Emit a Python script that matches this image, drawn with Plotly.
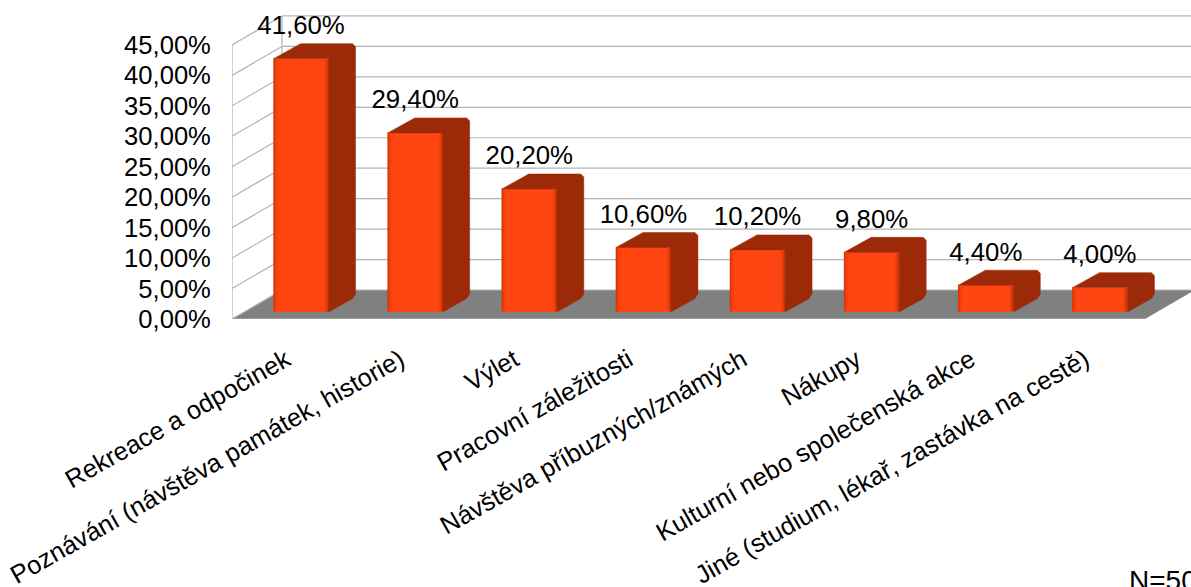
import plotly.graph_objects as go

categories = ["Rekreace a odpočinek", "Poznávání (návštěva památek, historie)", "Výlet",
              "Pracovní záležitosti", "Návštěva příbuzných/známých", "Nákupy",
              "Kulturní nebo společenská akce", "Jiné (studium, lékař, zastávka na cestě)"]
values = [41.6, 29.4, 20.2, 10.6, 10.2, 9.8, 4.4, 4.0]
y_ticks = [0, 5, 10, 15, 20, 25, 30, 35, 40, 45]

PX_X = 114.125   # pixels per category
PX_Y = 6.09      # pixels per percentage point
L, B = 232, 268
W, H = 1191, 587
DEPTH_X = 50 / PX_X
DEPTH_Y = 29 / PX_Y
BAR_W = 55 / PX_X
BASE_X = 12 / PX_X
BASE_Y = 7 / PX_Y
SIDE_X = 27 / PX_X
SIDE_Y = 15 / PX_Y
LABEL_Y = 31 / PX_Y
CUT_X = 3 / PX_X
CUT_Y = 3 / PX_Y
TICK_SHIFT = 3 / PX_X
FONT = "Liberation Sans"
FS = 25.8
FS_Y = 25.6
FS_X = 25.5
FS_NOTE = 28
INK = "#000000"
GRID = "#b3b3b3"
FLOOR = "#808080"
FRONT = "#ff4511"
DARK = "#9c2a08"
# (offset from the bar edge in px, strip width in px, colour)
LEFT_STRIPS = [(0, 1.2, "#cf380b"), (1.2, 1.2, "#e83e0d"), (2.4, 1.2, "#f6420f")]
RIGHT_STRIPS = [(0, 1.2, "#b9320a"), (1.2, 1.2, "#d63a0c"), (2.4, 1.2, "#ee400e")]

xs = [i + 0.5 for i in range(len(values))]
x_max = (W - L) / PX_X
y_max = (H - B) / PX_Y

shapes = [dict(type="path", layer="below", xref="x", yref="y", line_width=0, fillcolor=FLOOR,
               path=f"M0,0 L8,0 L{8+DEPTH_X},{DEPTH_Y} L{DEPTH_X},{DEPTH_Y} Z")]
for t in y_ticks:
    shapes.append(dict(type="line", layer="below", xref="x", yref="y", x0=0, y0=t, x1=DEPTH_X,
                       y1=t + DEPTH_Y, line=dict(color=GRID, width=1.2)))
    shapes.append(dict(type="line", layer="below", xref="x", yref="y", x0=DEPTH_X, y0=t + DEPTH_Y,
                       x1=8 + DEPTH_X, y1=t + DEPTH_Y, line=dict(color=GRID, width=1.2)))
for x0 in (0, DEPTH_X):
    dy = DEPTH_Y if x0 else 0
    shapes.append(dict(type="line", layer="below", xref="x", yref="y", x0=x0, y0=dy, x1=x0,
                       y1=max(y_ticks) + dy, line=dict(color=GRID, width=1.2)))
shapes.append(dict(type="line", layer="below", xref="x", yref="y", x0=0, y0=0, x1=8, y1=0,
                   line=dict(color=GRID, width=1.2)))

fig = go.Figure()
fig.add_bar(x=[x + BASE_X for x in xs], y=values, base=[BASE_Y] * len(values), width=BAR_W,
            marker=dict(color=FRONT, line=dict(width=0), cornerradius=2), hoverinfo="skip")


def poly(px, py, color):
    fig.add_scatter(x=px + px[:1], y=py + py[:1], mode="lines", fill="toself", fillcolor=color,
                    line=dict(color=color, width=0.5), hoverinfo="skip")


for x, v in zip(xs, values):
    left = x + BASE_X - BAR_W / 2
    right = left + BAR_W
    top = v + BASE_Y
    # side and top faces as one silhouette with softened corners
    poly([left, left + SIDE_X, right + SIDE_X - CUT_X, right + SIDE_X, right + SIDE_X,
          right + SIDE_X - CUT_X, right, right, left],
         [top, top + SIDE_Y, top + SIDE_Y, top + SIDE_Y - CUT_Y, BASE_Y + SIDE_Y + CUT_Y,
          BASE_Y + SIDE_Y - CUT_Y / 2, BASE_Y, top, top],
         DARK)
    # soft bevel on the front face
    for off, w, col in LEFT_STRIPS:
        a, b = left + off / PX_X, left + (off + w) / PX_X
        poly([a, b, b, a], [BASE_Y + 0.2, BASE_Y + 0.2, top, top], col)
    for off, w, col in RIGHT_STRIPS:
        a, b = right - off / PX_X, right - (off + w) / PX_X
        poly([a, b, b, a], [BASE_Y + 0.2, BASE_Y + 0.2, top, top], col)

fig.add_scatter(x=[x + BASE_X for x in xs], y=[v + BASE_Y + LABEL_Y for v in values], mode="text",
                text=[f"{v:.2f}%".replace(".", ",") for v in values], textposition="middle center",
                textfont=dict(family=FONT, size=FS, color=INK), hoverinfo="skip", cliponaxis=False)

fig.update_layout(
    width=W, height=H, margin=dict(l=L, r=0, t=0, b=B), showlegend=False, bargap=0,
    paper_bgcolor="white", plot_bgcolor="white", shapes=shapes,
    font=dict(family=FONT, size=FS, color=INK),
    xaxis=dict(range=[0, x_max], tickmode="array", tickvals=[x - TICK_SHIFT for x in xs],
               ticktext=categories, tickangle=-29.5,
               showgrid=False, zeroline=False, showline=False, ticks="outside", ticklen=15,
               tickcolor="rgba(0,0,0,0)", tickfont=dict(family=FONT, size=FS_X, color=INK),
               automargin=False),
    yaxis=dict(range=[0, y_max], tickmode="array", tickvals=y_ticks,
               ticktext=[f"{t:.2f}%".replace(".", ",") for t in y_ticks],
               showgrid=False, zeroline=False, showline=False, ticks="outside", ticklen=15,
               tickcolor="rgba(0,0,0,0)", tickfont=dict(family=FONT, size=FS_Y, color=INK),
               automargin=False),
    annotations=[dict(text="N=50", xref="paper", yref="paper", x=(1127 - L) / (W - L),
                      y=(H - 580 - B) / (H - B), xanchor="left", yanchor="middle", showarrow=False,
                      font=dict(family=FONT, size=FS_NOTE, color=INK))],
)
fig.write_html("out.html", config=dict(displayModeBar=False),
               post_script="document.body.style.margin='0';document.body.style.overflow='hidden';")
